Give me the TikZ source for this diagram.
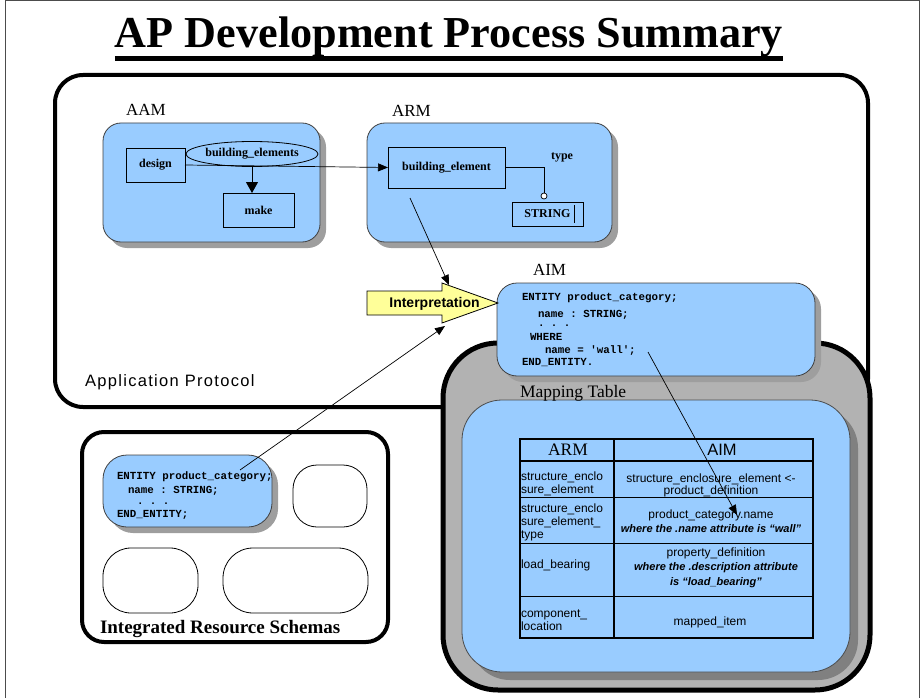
\documentclass[tikz,border=0pt]{standalone}
\usepackage{fontspec}
\setmainfont{Liberation Serif}
\setsansfont{Liberation Sans}
\setmonofont{Liberation Mono}
\usetikzlibrary{shapes.geometric,arrows.meta,shadows}
\definecolor{lblue}{HTML}{99CCFF}
\definecolor{lyellow}{HTML}{FFFF99}
\definecolor{gbox}{HTML}{B2B2B2}
\definecolor{gshadow}{HTML}{808080}
\newcommand\fsz[1]{\fontsize{#1pt}{#1pt}\selectfont}
\begin{document}
\begin{tikzpicture}[x=1pt,y=-1pt,
  every node/.style={inner sep=0pt, outer sep=0pt},
  thickframe/.style={draw, line width=4pt, rounded corners=28pt},
  bluebox/.style={draw=black!75, line width=0.8pt, fill=lblue},
  shad/.style={drop shadow={shadow xshift=6pt, shadow yshift=-6pt, fill=black!38, opacity=1}},
  plainbox/.style={draw, line width=0.8pt},
  wshape/.style={draw, line width=0.8pt, fill=white},
  lbl/.style={font=\fsz{17}, anchor=base west},
  bserif/.style={font=\fsz{12}\bfseries},
  code/.style={font=\fsz{10.8}\ttfamily\bfseries, anchor=base west},
  dots/.style={code, text height=1pt},
  cell/.style={font=\fsz{12}\sffamily, anchor=base},
  celll/.style={font=\fsz{12}\sffamily, anchor=base west},
  celli/.style={font=\fsz{11}\sffamily\bfseries\itshape, anchor=base},
  conn/.style={line width=0.7pt, -{Triangle[length=10pt,width=8pt]}},
]
\useasboundingbox (0,0) rectangle (921,698);
% page frame
\draw[line width=1pt, black!70] (5,698) -- (5,1) -- (919,1) -- (919,698);

% title
\node[font=\fsz{44.2}\bfseries, anchor=base] (title) at (449,48) {AP Development Process Summary};
\draw[line width=5pt] ([yshift=-10.5pt]title.base west) -- ([yshift=-10.5pt]title.base east);

% Application Protocol frame
\node[thickframe, minimum width=813pt, minimum height=332pt] (ap) at (461.5,241) {};
\node[font=\fsz{16.5}\sffamily\addfontfeatures{LetterSpace=8}, anchor=base west] (aplabel) at (85,386) {Application Protocol};

% AAM
\node[lbl] (aamlabel) at (126,116) {AAM};
\node[bluebox, shad, rounded corners=18pt, minimum width=217pt, minimum height=119pt] (aam) at (211.5,182.5) {};
\node[plainbox, minimum width=59pt, minimum height=34pt, bserif] (design) at (155.5,165) {design};
\node[plainbox, minimum width=71pt, minimum height=34pt, bserif] (make) at (258.5,210) {make};

% ARM
\node[lbl] (armlabel) at (392,117) {ARM};
\node[bluebox, shad, rounded corners=18pt, minimum width=245pt, minimum height=119pt] (arm) at (489.5,182.5) {};
\node[plainbox, minimum width=117pt, minimum height=41pt, bserif] (bel) at (446.5,167.5) {building\_element};
\node[plainbox, minimum width=71pt, minimum height=24pt, bserif] (str) at (547.5,214) {STRING};
\draw[line width=0.8pt] ([xshift=-9pt]str.north east) ++(0,3) coordinate (cur1) -- ++(0,18) coordinate (cur2);
\node[circle, draw, line width=0.7pt, fill=white, minimum size=6pt] (tcirc) at (544,196) {};
\node[bserif, anchor=base west] (typelbl) at (551,160) {type};
\draw[line width=0.8pt] (bel.east) -| (tcirc.north);

% AAM internal connectors
\draw[conn] (design.east) -- (bel.west);
\node[ellipse, draw, line width=0.8pt, minimum width=108pt, minimum height=25pt, bserif] (ell) at (252,154) {building\_elements};
\draw[line width=1pt, -{Triangle[length=11pt,width=12pt]}] (ell.south) -- (ell.south |- make.north);

% Mapping table gray box
\node[draw, line width=5pt, fill=gbox, rounded corners=55pt, minimum width=427pt, minimum height=347pt] (gray) at (656.5,516.5) {};
\node[draw=black!70, line width=0.8pt, fill=lblue, rounded corners=40pt, minimum width=388pt, minimum height=272pt,
  drop shadow={shadow xshift=8pt, shadow yshift=-8pt, fill=gshadow, opacity=1}] (map) at (656,536) {};
\node[font=\fsz{17.5}, anchor=base west] (maplabel) at (520,397) {Mapping Table};

% AIM
\node[lbl] (aimlabel) at (533,275) {AIM};
\node[bluebox, shad, rounded corners=20pt, minimum width=318pt, minimum height=93pt] (aim) at (656,329.5) {};
\node[code] (a1) at (522,300) {ENTITY product\_category;};
\node[code] (a2) at (538,317) {name : STRING;};
\node[dots] (a3) at (538,326) {. . .};
\node[code] (a4) at (530,340) {WHERE};
\node[code] (a5) at (545,353) {name = 'wall';};
\node[code] (a6) at (522,365) {END\_ENTITY.};

% Interpretation arrow
\path[draw, line width=0.8pt, fill=lyellow] (367,291) -- (442,291) -- (442,283) -- (498,303) -- (442,323) -- (442,315) -- (367,315) -- cycle;
\node[font=\fsz{14}\sffamily\bfseries, anchor=base] (interp) at (434.5,307.5) {Interpretation};
\coordinate (iptop) at (449,285);
\coordinate (ipbot) at (445,326);

% Integrated Resource Schemas
\node[thickframe, rounded corners=22pt, minimum width=306pt, minimum height=210pt] (irs) at (235,537) {};
\node[font=\fsz{19}\bfseries, anchor=base west] (irslabel) at (100,633) {Integrated Resource Schemas};
\node[bluebox, shad, rounded corners=24pt, minimum width=169pt, minimum height=72pt] (ent) at (187.5,491) {};
\node[code] (e1) at (117,479) {ENTITY product\_category;};
\node[code] (e2) at (128,493) {name : STRING;};
\node[dots] (e3) at (137,504) {. . .};
\node[code] (e4) at (117,517) {END\_ENTITY;};
\node[wshape, rounded corners=24pt, minimum width=74pt, minimum height=62pt] (w1) at (330,496) {};
\node[wshape, rounded corners=28pt, minimum width=95pt, minimum height=65pt] (w2) at (150.5,580.5) {};
\node[wshape, rounded corners=30pt, minimum width=145pt, minimum height=65pt] (w3) at (295.5,580.5) {};

% connectors to interpretation
\coordinate (c1s) at (410,198);
\coordinate (c2s) at (240,470);
\draw[conn] (c1s) -- (iptop);
\draw[conn] (c2s) -- (ipbot);

% table
\coordinate (tTL) at (520,439);
\coordinate (tBR) at (813,638);
\draw[line width=1pt] (520,497) -- (813,497);
\draw[line width=1pt] (520,543) -- (813,543);
\draw[line width=1pt] (520,596) -- (813,596);
\draw[line width=2pt] (520,461) -- (813,461);
\draw[line width=2pt] (614,439) -- (614,638);
\draw[line width=2pt] (tTL) rectangle (tBR);
\node[font=\fsz{17.5}, anchor=base] (hARM) at (568,455) {ARM};
\node[font=\fsz{16.5}\sffamily, anchor=base] (hAIM) at (722,455) {AIM};

\node[celll] (l1a) at (521,480) {structure\_enclo};
\node[celll] (l1b) at (521,493) {sure\_element};
\node[cell] (r1a) at (711,482) {structure\_enclosure\_element <-};
\node[cell] (r1b) at (711,494) {product\_definition};

\node[celll] (l2a) at (521,512) {structure\_enclo};
\node[celll] (l2b) at (521,525) {sure\_element\_};
\node[celll] (l2c) at (521,538) {type};
\node[cell] (r2a) at (711,518) {product\_category.name};
\node[celli] (r2b) at (711,532) {where the .name attribute is “wall”};

\node[celll] (l3) at (521,568) {load\_bearing};
\node[cell] (r3a) at (716,556) {property\_definition};
\node[celli] (r3b) at (716,570) {where the .description attribute};
\node[celli] (r3c) at (716,585) {is “load\_bearing”};

\node[celll] (l4a) at (521,617) {component\_};
\node[celll] (l4b) at (521,630) {location};
\node[cell] (r4) at (710,625) {mapped\_item};

% AIM to table connector
\coordinate (c3s) at (648,352);
\coordinate (c3e) at (737,515);
\draw[conn] (c3s) -- (c3e);
\end{tikzpicture}
\end{document}
